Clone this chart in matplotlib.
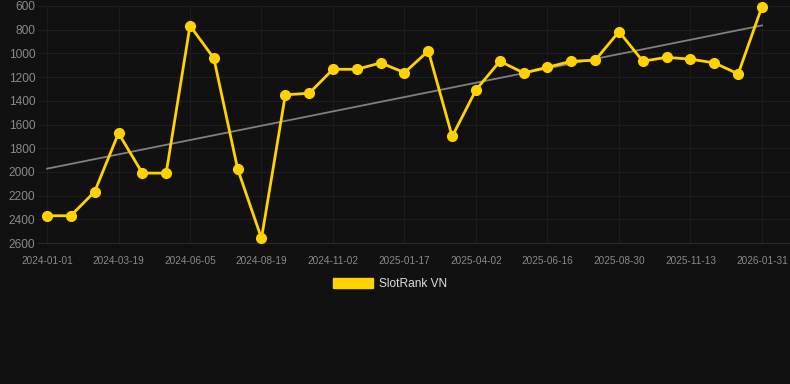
import numpy as np
import matplotlib
matplotlib.use("Agg")
import matplotlib.pyplot as plt
from matplotlib.patches import Patch

# rank per sample (lower is better, axis inverted)
rank = [2370, 2370, 2167, 1673, 2010, 2010, 766, 1041, 1976, 2561,
        1350, 1336, 1134, 1134, 1080, 1162, 979, 1701, 1308, 1066,
        1165, 1117, 1066, 1058, 816, 1066, 1033, 1049, 1080, 1173, 605]
tick_labels = ["2024-01-01", "2024-03-19", "2024-06-05", "2024-08-19",
               "2024-11-02", "2025-01-17", "2025-04-02", "2025-06-16",
               "2025-08-30", "2025-11-13", "2026-01-31"]
series_name = "SlotRank VN"

BG = "#111111"
GOLD = "#ffd200"

plt.rcParams['font.family'] = ['Liberation Sans', 'DejaVu Sans']

fig = plt.figure(figsize=(7.9, 3.84), dpi=100, facecolor=BG)
ax = fig.add_axes([38 / 790, 1 - 243 / 384, 752 / 790, 237 / 384])
ax.set_facecolor(BG)

x = np.arange(len(rank))
y = np.array(rank, dtype=float)

# linear trend
k, b = np.polyfit(x, y, 1)
ax.plot(x, k * x + b, color="#808080", lw=1.3, zorder=2)

ax.plot(x, y, color=GOLD, lw=2.0, marker="o", ms=7, mec=GOLD, mfc=GOLD,
        zorder=3, clip_on=False)

ax.set_xlim(-9 / 23.83, 30 + 28 / 23.83)
ax.set_ylim(2600, 600)
ax.set_yticks(np.arange(600, 2601, 200))
ax.set_xticks(x[::3])
ax.set_xticklabels(tick_labels)

ax.grid(True, color="#1d1d1d", lw=0.8)
ax.set_axisbelow(True)
for s in ax.spines.values():
    s.set_visible(False)
ax.spines["bottom"].set_visible(True)
ax.spines["bottom"].set_color("#2a2a2a")
ax.spines["bottom"].set_linewidth(0.8)
ax.tick_params(axis="y", length=0, pad=2, labelsize=8.6, labelcolor="#8a8a8a")
ax.tick_params(axis="x", length=0, pad=9, labelsize=7.2, labelcolor="#8a8a8a")

fig.legend(handles=[Patch(facecolor=GOLD, edgecolor=GOLD, label=series_name)],
           loc="center", bbox_to_anchor=(390 / 790, 1 - 284 / 384),
           frameon=False, fontsize=8.6, labelcolor="#dddddd",
           handlelength=3.33, handleheight=0.83, handletextpad=0.5)

fig.savefig("out.png", dpi=100, facecolor=BG)
